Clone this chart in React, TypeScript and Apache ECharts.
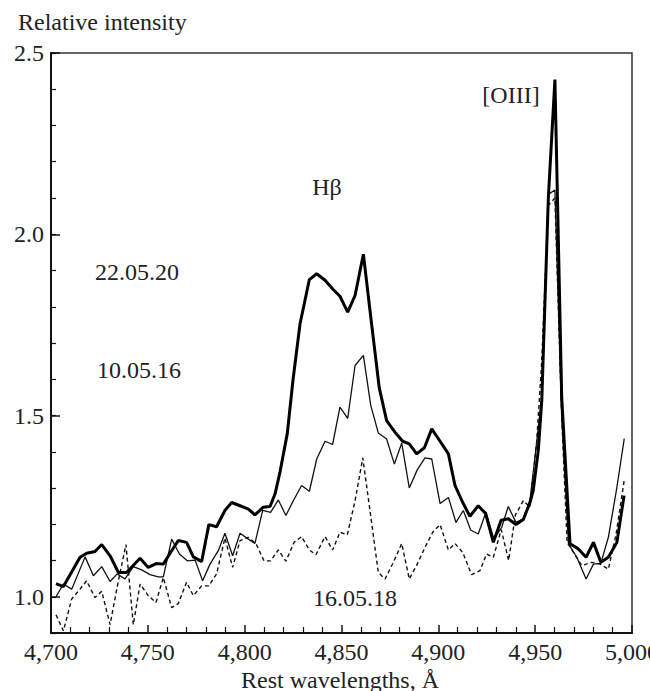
import React, { useEffect, useRef } from "react";
import * as echarts from "echarts";

// 22.05.20 (thick line)
const wl22 = [4702.6, 4706.4, 4715, 4718.4, 4722.7, 4726.2, 4730.5, 4734.8, 4739, 4746, 4750.2, 4754.6, 4758, 4762.3, 4765.7, 4770, 4773.5, 4777.8, 4781.5, 4785.5, 4789.8, 4793.3, 4797.6, 4801.9, 4805.3, 4809.6, 4813.1, 4815.7, 4818.2, 4822, 4825, 4828.6, 4833.4, 4837.2, 4841.5, 4845.8, 4849.2, 4853.2, 4857, 4861.3, 4864.7, 4869.5, 4873.3, 4877.6, 4881.6, 4885, 4888.8, 4892.8, 4896.6, 4900.9, 4905.2, 4908.6, 4912.6, 4916.3, 4920.6, 4924.4, 4928.4, 4932.4, 4936.1, 4940.1, 4943.9, 4947.3, 4949, 4951.6, 4953.4, 4956.8, 4960.2, 4963.7, 4968, 4972.3, 4976.3, 4980.1, 4983.9, 4987.8, 4992.2, 4995.9];
const int22 = [1.036, 1.028, 1.109, 1.12, 1.125, 1.144, 1.113, 1.067, 1.067, 1.106, 1.081, 1.092, 1.09, 1.127, 1.155, 1.15, 1.11, 1.097, 1.199, 1.193, 1.238, 1.26, 1.251, 1.242, 1.226, 1.247, 1.249, 1.284, 1.343, 1.45, 1.6, 1.753, 1.875, 1.891, 1.873, 1.847, 1.829, 1.785, 1.831, 1.945, 1.79, 1.576, 1.486, 1.454, 1.429, 1.422, 1.394, 1.411, 1.463, 1.429, 1.394, 1.307, 1.26, 1.222, 1.251, 1.23, 1.15, 1.211, 1.215, 1.199, 1.213, 1.26, 1.293, 1.403, 1.541, 2.1, 2.427, 1.55, 1.146, 1.132, 1.109, 1.15, 1.095, 1.109, 1.15, 1.279];

// 10.05.16 (thin line)
const wl10 = [4702.6, 4706.4, 4710.7, 4717.6, 4721.9, 4726.2, 4730.5, 4734.2, 4738.2, 4742.5, 4746.8, 4751.1, 4755.4, 4758, 4762.3, 4766.3, 4770.4, 4774.4, 4778.3, 4782.1, 4786.4, 4789.8, 4793.8, 4797.6, 4801.9, 4805.3, 4809.3, 4813.4, 4817.4, 4821.3, 4825.1, 4829.4, 4833.4, 4837.2, 4841.5, 4845.4, 4849.2, 4853.2, 4857, 4861.3, 4865.1, 4869, 4873.3, 4877.3, 4881.1, 4885, 4889.1, 4893.1, 4896.6, 4900.9, 4905.2, 4909.1, 4912.9, 4916.7, 4920.6, 4924.6, 4928.7, 4932.7, 4936.1, 4940.1, 4943.9, 4947.3, 4949.9, 4953.4, 4956.8, 4960.2, 4963.7, 4967.2, 4971.5, 4976.3, 4980.1, 4983.9, 4987.8, 4992.2, 4996];
const int10 = [1.0, 1.035, 1.021, 1.11, 1.058, 1.083, 1.042, 1.063, 1.049, 1.083, 1.074, 1.061, 1.055, 1.055, 1.159, 1.118, 1.099, 1.101, 1.044, 1.09, 1.127, 1.175, 1.113, 1.175, 1.159, 1.147, 1.238, 1.233, 1.267, 1.224, 1.265, 1.307, 1.291, 1.38, 1.429, 1.42, 1.523, 1.492, 1.638, 1.666, 1.528, 1.452, 1.435, 1.366, 1.424, 1.3, 1.35, 1.383, 1.38, 1.257, 1.274, 1.205, 1.238, 1.184, 1.173, 1.233, 1.159, 1.191, 1.249, 1.205, 1.215, 1.265, 1.385, 1.55, 2.11, 2.122, 1.5, 1.146, 1.109, 1.049, 1.09, 1.092, 1.164, 1.302, 1.436];

// 16.05.18 (dashed line)
const wl16 = [4702.6, 4706.4, 4710.7, 4715, 4718.4, 4722.7, 4726.2, 4730.5, 4734.8, 4738.7, 4742.5, 4746, 4750.2, 4754.2, 4758, 4762.3, 4765.7, 4770, 4773.5, 4777.8, 4781.5, 4785.5, 4789.8, 4793.8, 4797.6, 4801.9, 4805.8, 4810, 4813.4, 4817.4, 4821.3, 4825.5, 4829.4, 4833.4, 4836.8, 4841.5, 4845.4, 4849.2, 4853, 4857, 4861, 4864.7, 4869, 4872.5, 4876.8, 4881.1, 4885, 4889.1, 4893.1, 4897.1, 4900.9, 4905.2, 4908.6, 4912.6, 4917.2, 4921.5, 4924.9, 4928.4, 4932.5, 4936.3, 4939.8, 4943.9, 4947.3, 4950.7, 4953.4, 4956.8, 4960.2, 4963.7, 4966.5, 4969.8, 4974.1, 4979.3, 4983.6, 4987.8, 4991.8, 4996];
const int16 = [0.95, 0.906, 0.994, 1.021, 1.044, 0.998, 1.015, 0.923, 1.044, 1.144, 0.923, 1.035, 1.003, 0.984, 1.053, 0.97, 0.981, 1.04, 1.003, 1.03, 1.03, 1.063, 1.162, 1.081, 1.155, 1.164, 1.147, 1.099, 1.099, 1.129, 1.098, 1.15, 1.166, 1.129, 1.116, 1.166, 1.129, 1.178, 1.171, 1.265, 1.383, 1.238, 1.067, 1.049, 1.095, 1.147, 1.049, 1.09, 1.136, 1.178, 1.199, 1.129, 1.147, 1.122, 1.061, 1.072, 1.118, 1.109, 1.185, 1.1, 1.226, 1.265, 1.247, 1.422, 1.65, 2.08, 2.1, 1.5, 1.15, 1.122, 1.086, 1.095, 1.09, 1.076, 1.173, 1.322];

const yMajorTicks = [1.0, 1.5, 2.0, 2.5];
const yMinorTicks = [0.9, 1.0, 1.1, 1.2, 1.3, 1.4, 1.5, 1.6, 1.7, 1.8, 1.9, 2.0, 2.1, 2.2, 2.3, 2.4, 2.5];

const FONT = '"Liberation Serif", "Times New Roman", serif';
const TXT = "#222";

const zip = (xs: number[], ys: number[]) => xs.map((x, i) => [x, ys[i]]);

export default function App() {
  const ref = useRef<HTMLDivElement>(null);
  useEffect(() => {
    document.body.style.margin = "0";
    const chart = echarts.init(ref.current!, null, { renderer: "svg" });
    const font = (s: number) => `${s}px ${FONT}`;
    chart.setOption({
      animation: false,
      backgroundColor: "#fff",
      grid: {
        left: 51, right: 18, top: 53, bottom: 58,
        show: true, borderColor: "#333", borderWidth: 1.5,
        outerBoundsMode: "none",
      },
      xAxis: {
        type: "value", min: 4700, max: 5000, interval: 50,
        axisLine: { show: true, lineStyle: { color: "#111", width: 2 } },
        axisTick: { show: true, inside: true, length: 8, lineStyle: { color: "#111", width: 1.5 } },
        minorTick: { show: true, splitNumber: 5, length: 6, lineStyle: { color: "#111", width: 1.2 } },
        axisLabel: { color: TXT, fontFamily: FONT, fontSize: 24, margin: 7 },
        splitLine: { show: false },
      },
      yAxis: [
        {
          type: "value", min: 0.9, max: 2.5,
          axisLine: { show: true, lineStyle: { color: "#111", width: 2 } },
          axisTick: { show: true, inside: true, length: 5, customValues: yMinorTicks, lineStyle: { color: "#111", width: 1.2 } },
          axisLabel: { color: TXT, fontFamily: FONT, fontSize: 24, margin: 7, customValues: yMajorTicks, formatter: (v: number) => v.toFixed(1) },
          splitLine: { show: false },
        },
        {
          type: "value", min: 0.9, max: 2.5, position: "left",
          axisLine: { show: false },
          axisTick: { show: true, inside: true, length: 9, customValues: yMajorTicks, lineStyle: { color: "#111", width: 1.5 } },
          axisLabel: { show: false },
          splitLine: { show: false },
        },
      ],
      series: [
        {
          name: "16.05.18", type: "line", showSymbol: false, data: zip(wl16, int16),
          lineStyle: { color: "#111", width: 1.4, type: [4, 3] },
        },
        {
          name: "10.05.16", type: "line", showSymbol: false, data: zip(wl10, int10),
          lineStyle: { color: "#111", width: 1.3 },
        },
        {
          name: "22.05.20", type: "line", showSymbol: false, data: zip(wl22, int22),
          lineStyle: { color: "#000", width: 3 },
        },
      ],
      graphic: [
        { type: "text", x: 18, y: 22, style: { text: "Relative intensity", font: font(24), fill: TXT, textAlign: "left", textVerticalAlign: "middle" } },
        { type: "text", x: 340, y: 680, style: { text: "Rest wavelengths, Å", font: font(24), fill: TXT, textAlign: "center", textVerticalAlign: "middle" } },
        { type: "text", x: 327, y: 187, style: { text: "Hβ", font: font(24), fill: TXT, textAlign: "center", textVerticalAlign: "middle" } },
        { type: "text", x: 511, y: 95, style: { text: "[OIII]", font: font(24), fill: TXT, textAlign: "center", textVerticalAlign: "middle" } },
        { type: "text", x: 95, y: 272, style: { text: "22.05.20", font: font(24), fill: TXT, textAlign: "left", textVerticalAlign: "middle" } },
        { type: "text", x: 97, y: 370, style: { text: "10.05.16", font: font(24), fill: TXT, textAlign: "left", textVerticalAlign: "middle" } },
        { type: "text", x: 313, y: 598, style: { text: "16.05.18", font: font(24), fill: TXT, textAlign: "left", textVerticalAlign: "middle" } },
      ],
    });
    return () => chart.dispose();
  }, []);
  return <div ref={ref} style={{ width: 650, height: 691 }} />;
}
